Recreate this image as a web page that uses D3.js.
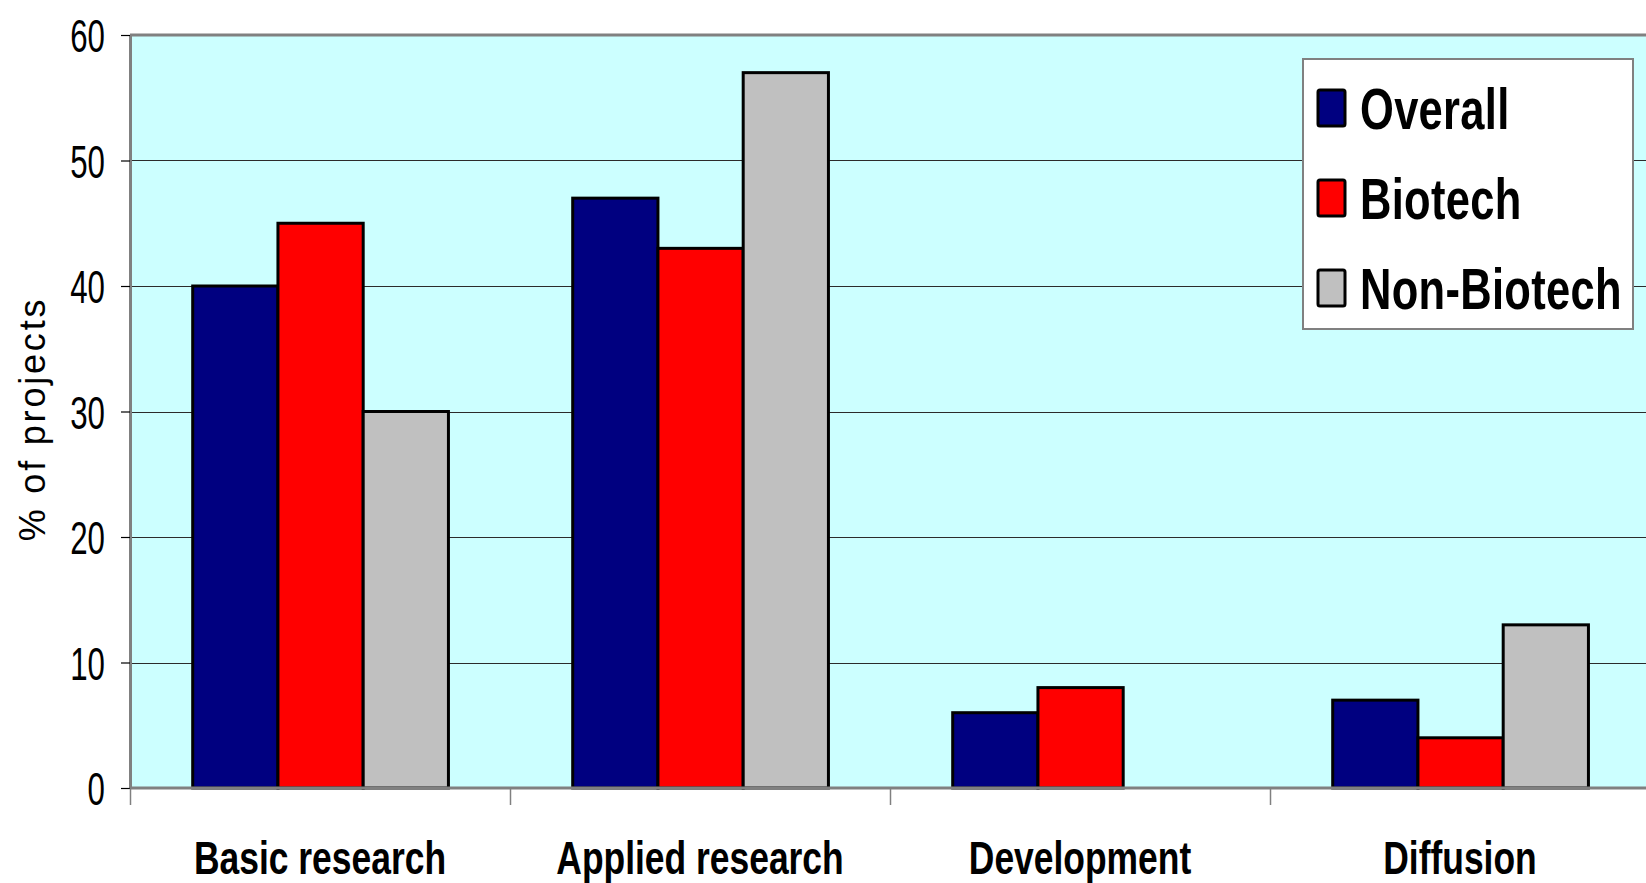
<!DOCTYPE html>
<html>
<head>
<meta charset="utf-8">
<script src="https://cdn.jsdelivr.net/npm/d3@7"></script>
<style>
  html, body { margin: 0; padding: 0; background: #ffffff; }
  svg { display: block; }
  text { font-family: "Liberation Sans", Arial, sans-serif; fill: #000; }
</style>
</head>
<body>
<svg id="chart" width="1646" height="883"></svg>
<script>
// Share of projects by stage of research
const categories = ["Basic research", "Applied research", "Development", "Diffusion"];
const seriesNames = ["Overall", "Biotech", "Non-Biotech"];
const overall    = [40, 47, 6, 7];
const biotech    = [45, 43, 8, 4];
const nonBiotech = [30, 57, null, 13];
const yTicks = [0, 10, 20, 30, 40, 50, 60];
const seriesColors = ["#000080", "#ff0000", "#c0c0c0"];

const seriesValues = [overall, biotech, nonBiotech];

const plot = { left: 130, top: 35, right: 1650, bottom: 788 };

const svg = d3.select("#chart");

const x0 = d3.scaleBand().domain(categories).range([plot.left, plot.right]).padding(0);
const bw = x0.bandwidth();
const x1 = d3.scaleBand().domain(seriesNames).range([bw * 0.165, bw * 0.838]).padding(0);
const y = d3.scaleLinear().domain([0, 60]).range([plot.bottom, plot.top]);

// plot area background
svg.append("rect")
  .attr("x", plot.left).attr("y", plot.top)
  .attr("width", plot.right - plot.left).attr("height", plot.bottom - plot.top)
  .attr("fill", "#ccffff");

// horizontal gridlines
svg.append("g").selectAll("line")
  .data(yTicks.filter(t => t > 0 && t < 60))
  .join("line")
  .attr("x1", plot.left).attr("x2", plot.right)
  .attr("y1", d => Math.round(y(d)) + 0.5).attr("y2", d => Math.round(y(d)) + 0.5)
  .attr("stroke", "#2b2b2b").attr("stroke-width", 1);

// top border of the plot area
svg.append("line")
  .attr("x1", plot.left).attr("x2", plot.right)
  .attr("y1", y(60)).attr("y2", y(60))
  .attr("stroke", "#808080").attr("stroke-width", 3);

// bars
const rows = categories.map((c, i) => ({
  cat: c,
  vals: seriesNames.map((s, j) => ({ s, j, v: seriesValues[j][i] }))
}));

const groups = svg.append("g").selectAll("g")
  .data(rows).join("g")
  .attr("transform", d => `translate(${x0(d.cat)},0)`);

groups.selectAll("rect")
  .data(d => d.vals.filter(b => b.v !== null && b.v > 0))
  .join("rect")
  .attr("x", b => x1(b.s))
  .attr("width", x1.bandwidth())
  .attr("y", b => y(b.v))
  .attr("height", b => y(0) - y(b.v))
  .attr("fill", b => seriesColors[b.j])
  .attr("stroke", "#000").attr("stroke-width", 3);

// y axis
const yAxis = d3.axisLeft(y).tickValues(yTicks).tickSize(9).tickSizeOuter(0).tickFormat(d3.format("d"));
const gy = svg.append("g").attr("transform", `translate(${plot.left},0)`).call(yAxis);
gy.select(".domain").attr("stroke", "#808080").attr("stroke-width", 3);
gy.selectAll(".tick line").attr("stroke", "#000").attr("stroke-width", 1.2);
gy.selectAll(".tick text")
  .attr("x", null).attr("dy", "0.36em")
  .attr("transform", "translate(-25,0) scale(0.68,1)")
  .style("font-size", "46px")
  .style("font-family", "'Liberation Sans', Arial, sans-serif")
  .attr("fill", "#000");

// x axis baseline and category separators
svg.append("line")
  .attr("x1", plot.left).attr("x2", plot.right)
  .attr("y1", y(0)).attr("y2", y(0))
  .attr("stroke", "#808080").attr("stroke-width", 3);

svg.append("g").selectAll("line")
  .data(categories)
  .join("line")
  .attr("x1", d => Math.round(x0(d)) + 0.5).attr("x2", d => Math.round(x0(d)) + 0.5)
  .attr("y1", y(0)).attr("y2", y(0) + 17)
  .attr("stroke", "#808080").attr("stroke-width", 1.5);

// category labels
svg.append("g").selectAll("text")
  .data(categories)
  .join("text")
  .attr("text-anchor", "middle")
  .attr("transform", d => `translate(${x0(d) + bw / 2},874) scale(0.77,1)`)
  .style("font-size", "46px").style("font-weight", "bold")
  .text(d => d);

// y axis title
svg.append("text")
  .attr("text-anchor", "middle")
  .attr("transform", "translate(45,419) rotate(-90)")
  .style("font-size", "36px")
  .style("letter-spacing", "2.8px")
  .text("% of projects");

// legend
const legend = svg.append("g").attr("transform", "translate(1303,59)");
legend.append("rect")
  .attr("width", 330).attr("height", 270)
  .attr("fill", "#ffffff").attr("stroke", "#808080").attr("stroke-width", 2);

const items = legend.selectAll("g.item")
  .data(seriesNames).join("g").attr("class", "item")
  .attr("transform", (d, i) => `translate(0,${i * 90})`);

items.append("rect")
  .attr("x", 15).attr("y", 31).attr("width", 27).attr("height", 36).attr("rx", 2)
  .attr("fill", (d, i) => seriesColors[i])
  .attr("stroke", "#000").attr("stroke-width", 3);

items.append("text")
  .attr("transform", "translate(57,70) scale(0.75,1)")
  .style("font-size", "58px").style("font-weight", "bold")
  .style("letter-spacing", "0.4px")
  .text(d => d);
</script>
</body>
</html>
